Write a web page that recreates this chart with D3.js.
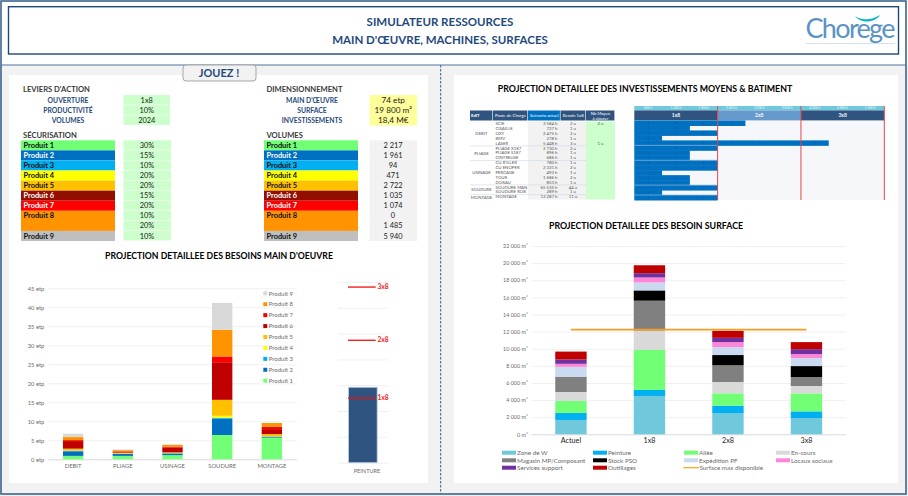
<!DOCTYPE html>
<html>
<head>
<meta charset="utf-8">
<script src="https://cdn.jsdelivr.net/npm/d3@7"></script>
<style>
  html, body { margin: 0; padding: 0; background: #fff; }
  svg { display: block; }
  text { font-family: Lato, "Open Sans", sans-serif; }
  .axis .domain { display: none; }
  .axis text { fill: #6a6a6a; font-size: 5.8px; font-family: Lato, sans-serif; }
</style>
</head>
<body>
<div id="chart"></div>
<script>
// Left tables
const produits = ["Produit 1", "Produit 2", "Produit 3", "Produit 4", "Produit 5", "Produit 6", "Produit 7", "Produit 8", "Produit 9"];
const produitRows = [1, 1, 1, 1, 1, 1, 1, 2, 1];
const produitColors = ["#70ff75", "#0070c0", "#00b0f0", "#ffff00", "#ffc000", "#920f00", "#ff0000", "#ff9300", "#bfbfbf"];
const produitText = ["#111", "#fff", "#111", "#111", "#111", "#fff", "#fff", "#111", "#111"];
const securisation = ["30%", "15%", "10%", "20%", "20%", "15%", "20%", "10%", "20%", "10%"];
const volumes = ["2 217", "1 961", "94", "471", "2 722", "1 035", "1 074", "0", "1 485", "5 940"];
const leviers = ["OUVERTURE", "PRODUCTIVITÉ", "VOLUMES"];
const leviersValues = ["1x8", "10%", "2024"];
const dimensions = ["MAIN D'ŒUVRE", "SURFACE", "INVESTISSEMENTS"];
const dimensionsValues = ["74 etp", "19 800 m²", "18,4 M€"];

// Main d'oeuvre chart
const ateliers = ["DEBIT", "PLIAGE", "USINAGE", "SOUDURE", "MONTAGE"];
const chartProduitColors = ["#70ff75", "#0070c0", "#00b0f0", "#ffff00", "#ffc000", "#c00000", "#ff0000", "#ff9300", "#d9d9d9"];
const etpProduit1 = [0.9, 0.9, 1.1, 6.4, 5.7];
const etpProduit2 = [1.2, 0.5, 0.4, 4.3, 0.2];
const etpProduit3 = [0.15, 0.05, 0.1, 0.25, 0.1];
const etpProduit4 = [0.05, 0.05, 0.03, 0.5, 0.05];
const etpProduit5 = [0.5, 0.25, 0.2, 4.2, 0.6];
const etpProduit6 = [2.0, 0.3, 1.3, 9.9, 1.3];
const etpProduit7 = [0.25, 0.05, 0.15, 1.5, 0.6];
const etpProduit8 = [0.8, 0.3, 0.5, 7.0, 1.0];
const etpProduit9 = [0.9, 0.2, 0.15, 7.1, 0];
const etpSeries = [etpProduit1, etpProduit2, etpProduit3, etpProduit4, etpProduit5, etpProduit6, etpProduit7, etpProduit8, etpProduit9];
const etpTicks = [0, 5, 10, 15, 20, 25, 30, 35, 40, 45];

// Peinture chart
const peintureValue = [14.6];
const peintureLevels = ["1x8", "2x8", "3x8"];
const peintureLevelValues = [12.5, 23.7, 34];

// Surface chart
const scenarios = ["Actuel", "1x8", "2x8", "3x8"];
const surfaceNames = ["Zone de W", "Peinture", "Allée", "En-cours", "Magasin MP/Composant", "Stock PSO", "Expédition PF", "Locaux sociaux", "Services support", "Outillages"];
const surfaceColors = ["#70c8dc", "#00b0f0", "#70ff75", "#d9d9d9", "#808080", "#000000", "#c9daf0", "#ff85d8", "#7030a0", "#c00000"];
const surfZone = [1675, 4480, 2490, 1900];
const surfPeinture = [820, 700, 860, 780];
const surfAllee = [1400, 4670, 1440, 2100];
const surfEncours = [1050, 2260, 1320, 860];
const surfMagasin = [1750, 3500, 1950, 1050];
const surfStock = [20, 1200, 1200, 1280];
const surfExpedition = [1170, 930, 930, 930];
const surfLocaux = [350, 580, 580, 470];
const surfServices = [500, 500, 500, 580];
const surfOutillages = [930, 930, 820, 820];
const surfSeries = [surfZone, surfPeinture, surfAllee, surfEncours, surfMagasin, surfStock, surfExpedition, surfLocaux, surfServices, surfOutillages];
const surfaceMax = [12230, 12230, 12230, 12230];
const surfTicks = [0, 2000, 4000, 6000, 8000, 10000, 12000, 14000, 16000, 18000, 20000, 22000];

// Investment table + gantt
const tableHeaders = ["EdIT", "Poste de Charge", "Scénario actuel", "Besoin 1x8", "Nb Moyen\nà ajouter"];
const tableHeaderColors = ["#2f5480", "#2f5480", "#0070c0", "#2f5480", "#2f5480"];
const ilots = ["DEBIT", "PLIAGE", "USINAGE", "SOUDURE", "MONTAGE"];
const ilotRows = [5, 3, 5, 2, 1];
const postes = ["SCIE", "CISAILLE", "OXY", "BMV", "LASER", "PLIAGE X187", "PLIAGE S187", "CINTREUSE", "CU R'ILLER", "CU ENOPER", "PERCAGE", "TOUR", "DORAU", "SOUDURE MAN", "SOUDURE ROB", "MONTAGE"];
const heures = ["3 584 h", "727 h", "2 475 h", "278 h", "5 448 h", "2 730 h", "896 h", "686 h", "780 h", "2 331 h", "493 h", "1 686 h", "853 h", "65 535 h", "289 h", "13 287 h"];
const besoin = ["2 u", "1 u", "2 u", "1 u", "3 u", "2 u", "1 u", "1 u", "1 u", "2 u", "1 u", "2 u", "1 u", "44 u", "1 u", "11 u"];
const moyens = ["2 u", "", "", "", "1 u", "", "", "", "", "", "", "", "", "", "", ""];
const ganttHours = [2400, 1200, 1800, 600, 4200, 1800, 1200, 1200, 1800, 1800, 600, 1200, 1200, 1800, 600, 1800];
const ganttTicks = [600, 1200, 1800, 2400, 3000, 3600, 4200, 4800, 5400];
const ganttShifts = ["1x8", "2x8", "3x8"];
const ganttShiftColors = ["#2f5480", "#6699cc", "#2f5480"];

const navy = "#1f497d";
const svg = d3.select("#chart").append("svg").attr("width", 908).attr("height", 496);

function label(parent, x, y, str, size, color, anchor, weight) {
  return parent.append("text").attr("x", x).attr("y", y).text(str)
    .attr("font-size", size).attr("fill", color)
    .attr("text-anchor", anchor || "start").attr("font-weight", weight || "normal");
}

// page background
svg.append("rect").attr("y", 65).attr("width", 908).attr("height", 431).attr("fill", "#f2f2f2");
svg.append("rect").attr("x", 9).attr("y", 75).attr("width", 419).attr("height", 408).attr("fill", "#fff");
svg.append("rect").attr("x", 454).attr("y", 75).attr("width", 444).attr("height", 408).attr("fill", "#fff");
svg.append("rect").attr("x", 1).attr("y", 1).attr("width", 905).attr("height", 493).attr("fill", "none").attr("stroke", "#3d6590").attr("stroke-width", 1.6);
svg.append("line").attr("x1", 1).attr("x2", 906).attr("y1", 65).attr("y2", 65).attr("stroke", "#4f7499").attr("stroke-width", 1.2);
svg.append("line").attr("x1", 440.7).attr("x2", 440.7).attr("y1", 65).attr("y2", 494).attr("stroke", "#2f5f8f").attr("stroke-width", 1).attr("stroke-dasharray", "2.5,1.5");

// title box
svg.append("rect").attr("x", 8.5).attr("y", 6.7).attr("width", 890).attr("height", 47.3).attr("fill", "#fff").attr("stroke", navy).attr("stroke-width", 1.4);
label(svg, 440, 26, "SIMULATEUR RESSOURCES", 11.5, navy, "middle", "bold");
label(svg, 440, 43.5, "MAIN D'ŒUVRE, MACHINES, SURFACES", 11.5, navy, "middle", "bold");

// logo
label(svg, 805.5, 37.5, "Chorege", 27, "#5a93c4", "start").attr("font-family", "Liberation Serif").attr("textLength", 90);
svg.append("path").attr("d", "M855,16 C862,21 872,20 880,15 C876,22 862,25 855,16 Z").attr("fill", "#12b4c4");
svg.append("line").attr("x1", 806).attr("x2", 895).attr("y1", 43.5).attr("y2", 43.5).attr("stroke", "#d5e2ee");

// JOUEZ button
svg.append("rect").attr("x", 183).attr("y", 65).attr("width", 73).attr("height", 16).attr("rx", 3).attr("fill", "#f2f2f2").attr("stroke", "#a6a6a6").attr("stroke-width", 1);
label(svg, 219, 77, "JOUEZ !", 11, navy, "middle", "bold");

// top left tables
const headColor = "#3a3a3a";
label(svg, 23, 92, "LEVIERS D'ACTION", 7.6, headColor, "start", "bold");
label(svg, 266.5, 92, "DIMENSIONNEMENT", 7.6, headColor, "start", "bold");
label(svg, 23, 138, "SÉCURISATION", 7.6, headColor, "start", "bold");
label(svg, 266.5, 138, "VOLUMES", 7.6, headColor, "start", "bold");

const topRow = d3.scaleBand().domain(d3.range(3)).range([95, 125.5]);
const prodRow = d3.scaleLinear().domain([0, 10]).range([140.3, 241]);

function topBlock(names, values, xName, xCell, wCell, fill, valueSize) {
  names.forEach((n, i) => {
    label(svg, xName, topRow(i) + 7.6, n, 6.8, navy, "middle", "bold");
    svg.append("rect").attr("x", xCell).attr("y", topRow(i)).attr("width", wCell).attr("height", topRow.bandwidth() - (fill === "#ffff99" ? 0 : 0.6)).attr("fill", fill);
    label(svg, xCell + wCell / 2, topRow(i) + 7.9, values[i], valueSize, "#222", "middle");
  });
}
topBlock(leviers, leviersValues, 68, 123.5, 46.5, "#ccffcc", 7.4);
topBlock(dimensions, dimensionsValues, 312, 369.5, 47.5, "#ffff99", 8.2);

function produitBlock(x0) {
  let row = 0;
  produits.forEach((p, i) => {
    svg.append("rect").attr("x", x0).attr("y", prodRow(row)).attr("width", 94)
      .attr("height", prodRow(row + produitRows[i]) - prodRow(row)).attr("fill", produitColors[i]);
    label(svg, x0 + 2.5, prodRow(row) + 7.6, p, 7.4, produitText[i], "start", "bold");
    row += produitRows[i];
  });
}
produitBlock(21);
produitBlock(264);

securisation.forEach((v, i) => {
  svg.append("rect").attr("x", 123.5).attr("y", prodRow(i)).attr("width", 47.5).attr("height", 9.5).attr("fill", "#ccffcc");
  label(svg, 147, prodRow(i) + 7.6, v, 7.4, "#222", "middle");
});
svg.append("rect").attr("x", 369.5).attr("y", prodRow(0)).attr("width", 47.5).attr("height", prodRow(10) - prodRow(0)).attr("fill", "#f2f2f2");
volumes.forEach((v, i) => label(svg, 393, prodRow(i) + 7.6, v, 7.4, "#222", "middle"));

// section titles
label(svg, 219, 258.5, "PROJECTION DETAILLEE DES BESOINS MAIN D'OEUVRE", 8.7, "#000", "middle", "bold");
label(svg, 645, 91.5, "PROJECTION DETAILLEE DES INVESTISSEMENTS MOYENS & BATIMENT", 8.8, "#000", "middle", "bold");
label(svg, 646, 228.5, "PROJECTION DETAILLEE DES BESOIN SURFACE", 8.8, "#000", "middle", "bold");

// grid-style axis on the left of a chart, labels only
function gridAxis(scale, x0, x1, ticks, fmt, color) {
  const g = svg.append("g").attr("class", "axis").attr("transform", `translate(${x1},0)`)
    .call(d3.axisLeft(scale).tickValues(ticks).tickSize(x1 - x0).tickFormat(fmt).tickPadding(4));
  g.selectAll("line").attr("stroke", (d) => d === 0 ? "#d9d9d9" : color || "#f0f0f0");
  return g;
}

function stackedBars(cats, series, colors, xs, ys) {
  const rows = cats.map((c, i) => {
    const r = { cat: c };
    series.forEach((s, k) => { r[k] = s[i]; });
    return r;
  });
  const stacked = d3.stack().keys(d3.range(series.length))(rows);
  svg.append("g").selectAll("g").data(stacked).join("g")
    .attr("fill", (d) => colors[d.key])
    .selectAll("rect").data((d) => d).join("rect")
    .attr("x", (d) => xs(d.data.cat))
    .attr("width", xs.bandwidth())
    .attr("y", (d) => ys(d[1]))
    .attr("height", (d) => ys(d[0]) - ys(d[1]));
}

// main d'oeuvre chart
const xEtp = d3.scaleBand().domain(ateliers).range([48.3, 296.7]).paddingInner(0.59).paddingOuter(0.295);
const yEtp = d3.scaleLinear().domain([0, 45]).range([459.3, 288.3]);
gridAxis(yEtp, 48.3, 296.7, etpTicks, (d) => d + " etp");
stackedBars(ateliers, etpSeries, chartProduitColors, xEtp, yEtp);
svg.append("g").attr("class", "axis").attr("transform", "translate(0,459.3)")
  .call(d3.axisBottom(xEtp).tickSize(0).tickPadding(5));

const legendEtp = d3.scaleLinear().domain([0, 8]).range([380.7, 293.3]);
produits.forEach((p, i) => {
  svg.append("rect").attr("x", 263.3).attr("y", legendEtp(i) - 2).attr("width", 4).attr("height", 4).attr("fill", chartProduitColors[i]);
  label(svg, 268.7, legendEtp(i) + 2.2, p, 6, "#6a6a6a");
});

// peinture chart
const xPeint = d3.scaleBand().domain(["PEINTURE"]).range([338, 387.7]).paddingInner(0).paddingOuter(0.369);
const yPeint = d3.scaleLinear().domain([0, 35]).range([462.7, 281.9]);
const gPeint = svg.append("g").attr("class", "axis").attr("transform", "translate(387.7,0)")
  .call(d3.axisLeft(yPeint).tickValues(d3.range(0, 36, 5)).tickSize(49.7).tickFormat(""));
gPeint.selectAll("line").attr("stroke", "#f0f0f0");
svg.append("rect").attr("x", xPeint("PEINTURE")).attr("width", xPeint.bandwidth())
  .attr("y", yPeint(peintureValue[0])).attr("height", yPeint(0) - yPeint(peintureValue[0]))
  .attr("fill", "#2f5480").attr("stroke", "#b8cce4").attr("stroke-width", 0.8);
peintureLevels.forEach((l, i) => {
  svg.append("line").attr("x1", 348).attr("x2", 375.7).attr("y1", yPeint(peintureLevelValues[i])).attr("y2", yPeint(peintureLevelValues[i]))
    .attr("stroke", "#f01010").attr("stroke-width", 1.3);
  label(svg, 377.5, yPeint(peintureLevelValues[i]) + 2, l, 6.6, "#f02020", "start", "bold");
});
label(svg, 367, 472.5, "PEINTURE", 5.6, "#6a6a6a", "middle");

// surface chart
const xSurf = d3.scaleBand().domain(scenarios).range([531.7, 845.7]).paddingInner(0.6).paddingOuter(0.3);
const ySurf = d3.scaleLinear().domain([0, 22000]).range([434.3, 246]);
const fmtM2 = (d) => d3.format(",")(d).replace(/,/g, " ") + " m²";
gridAxis(ySurf, 531.7, 845.7, surfTicks, fmtM2).selectAll("text").style("font-size", "5.4px");
stackedBars(scenarios, surfSeries, surfaceColors, xSurf, ySurf);
const xSurfAxis = svg.append("g").attr("class", "axis").attr("transform", "translate(0,434.3)")
  .call(d3.axisBottom(xSurf).tickSize(0).tickPadding(4));
xSurfAxis.selectAll("text").attr("fill", "#222").style("fill", "#222").style("font-size", "7.2px");
const maxLine = d3.line().x((d, i) => xSurf(scenarios[i]) + xSurf.bandwidth() / 2).y((d) => ySurf(d));
svg.append("path").attr("d", maxLine(surfaceMax)).attr("fill", "none").attr("stroke", "#f5a01e").attr("stroke-width", 1.6);

// surface legend, filled column by column on three rows
const legendCols = [502, 593, 684, 776];
const legendRows = [452.7, 460.3, 467.7];
surfaceNames.forEach((n, i) => {
  const c = i % 4, r = Math.floor(i / 4);
  svg.append("rect").attr("x", legendCols[c]).attr("y", legendRows[r] - 2).attr("width", 14).attr("height", 4).attr("fill", surfaceColors[i]);
  label(svg, legendCols[c] + 15, legendRows[r] + 2.3, n, 6.3, "#6a6a6a");
});
svg.append("line").attr("x1", 683.3).attr("x2", 699).attr("y1", legendRows[2]).attr("y2", legendRows[2]).attr("stroke", "#f5a01e").attr("stroke-width", 1.2);
label(svg, 699.5, legendRows[2] + 2.3, "Surface max disponible", 6.3, "#6a6a6a");

// investment table
const colEdges = [470, 493, 528, 560.5, 586, 615];
const tableRow = d3.scaleBand().domain(d3.range(postes.length)).range([121.5, 199.5]);
tableHeaders.forEach((h, i) => {
  svg.append("rect").attr("x", colEdges[i]).attr("y", 110.5).attr("width", colEdges[i + 1] - colEdges[i] - 0.6).attr("height", 10).attr("fill", tableHeaderColors[i]);
  const lines = h.split("\n");
  lines.forEach((l, k) => {
    label(svg, i === 0 ? colEdges[0] + 1 : (colEdges[i] + colEdges[i + 1]) / 2, 117.3 + (k - (lines.length - 1) / 2) * 4.6, l, lines.length > 1 ? 4.2 : 4.3, "#fff", i === 0 ? "start" : "middle", i === 0 ? "bold" : "normal");
  });
});
svg.append("rect").attr("x", colEdges[2]).attr("y", 121.5).attr("width", colEdges[4] - colEdges[2]).attr("height", 78).attr("fill", "#f2f2f2");
svg.append("rect").attr("x", colEdges[4]).attr("y", 121.5).attr("width", colEdges[5] - colEdges[4]).attr("height", 78).attr("fill", "#ccffcc");
postes.forEach((p, i) => {
  const y = tableRow(i) + 3.7;
  label(svg, 495.5, y, p, 4.3, "#555");
  label(svg, 557.5, y, heures[i], 4.3, "#555", "end");
  label(svg, 573, y, besoin[i], 4.3, "#555", "middle");
  if (moyens[i]) label(svg, 600.5, y, moyens[i], 4.3, "#555", "middle");
});
let ilotStart = 0;
ilots.forEach((n, i) => {
  const mid = tableRow(ilotStart) + tableRow.bandwidth() * ilotRows[i] / 2;
  label(svg, 481.5, mid + 1.6, n, 4.3, "#555", "middle");
  ilotStart += ilotRows[i];
  if (ilotStart < postes.length) {
    svg.append("line").attr("x1", 470).attr("x2", 586).attr("y1", tableRow(ilotStart)).attr("y2", tableRow(ilotStart)).attr("stroke", "#c5d3e2").attr("stroke-width", 0.5);
  }
});

// gantt
const xGantt = d3.scaleLinear().domain([0, 5400]).range([634.3, 884.3]);
const yGantt = d3.scaleBand().domain(d3.range(ganttHours.length)).range([120.5, 200]);
svg.append("rect").attr("x", 634.3).attr("y", 120.5).attr("width", 250).attr("height", 79.5).attr("fill", "#f5f7fb");
svg.append("rect").attr("x", 634.3).attr("y", 106).attr("width", 250).attr("height", 4.4).attr("fill", "#70c8dc");
ganttTicks.forEach((t) => label(svg, xGantt(t - 300), 109.4, d3.format(",")(t).replace(",", " ") + " h", 3.2, "#eaf6fa", "middle"));
ganttShifts.forEach((s, i) => {
  const x0 = xGantt(i * 1800), x1 = xGantt((i + 1) * 1800);
  svg.append("rect").attr("x", x0).attr("y", 110.4).attr("width", x1 - x0).attr("height", 10).attr("fill", ganttShiftColors[i]);
  label(svg, (x0 + x1) / 2, 117.4, s, 5, "#f4f7fb", "middle", "bold");
});
// bars overlap by a hair so no seam shows between rows
svg.append("g").selectAll("rect").data(ganttHours).join("rect")
  .attr("x", xGantt(0))
  .attr("y", (d, i) => yGantt(i))
  .attr("width", (d) => xGantt(d) - xGantt(0))
  .attr("height", yGantt.bandwidth() + 0.5)
  .attr("fill", "#0070c0");
// small tick dots in the middle of every 600 h step of a bar
ganttHours.forEach((h, i) => {
  ganttTicks.filter((t) => t <= h).forEach((t) => {
    svg.append("circle").attr("cx", xGantt(t - 300)).attr("cy", yGantt(i) + yGantt.bandwidth() / 2).attr("r", 0.4).attr("fill", "#0b2a45");
  });
});
let ganttStart = 0;
ilotRows.slice(0, -1).forEach((n) => {
  ganttStart += n;
  svg.append("line").attr("x1", 634.3).attr("x2", xGantt(1800)).attr("y1", yGantt(ganttStart)).attr("y2", yGantt(ganttStart)).attr("stroke", "#8fb8dc").attr("stroke-width", 0.7);
});
ganttShifts.forEach((s, i) => {
  svg.append("line").attr("x1", xGantt((i + 1) * 1800)).attr("x2", xGantt((i + 1) * 1800)).attr("y1", 106).attr("y2", 200).attr("stroke", "#ea4545").attr("stroke-width", 1);
});
</script>
</body>
</html>
